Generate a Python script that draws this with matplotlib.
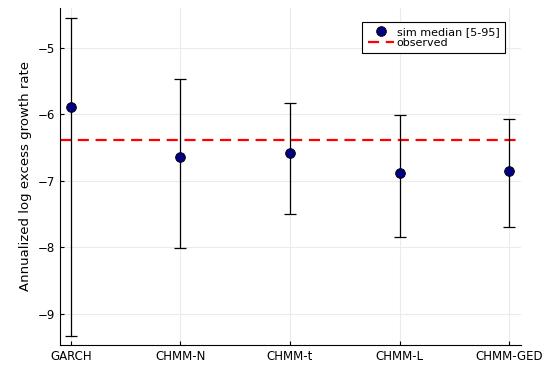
import numpy as np
import matplotlib
matplotlib.use('Agg')
import matplotlib.pyplot as plt

# Données
modeles = ['GARCH', 'CHMM-N', 'CHMM-t', 'CHMM-L', 'CHMM-GED']
mediane = [-5.89, -6.64, -6.58, -6.88, -6.85]
q05 = [-9.33, -8.01, -7.50, -7.84, -7.70]
q95 = [-4.55, -5.47, -5.83, -6.01, -6.07]
observe = -6.38

x = np.arange(1, len(modeles) + 1)
med = np.array(mediane)
err = [med - np.array(q05), np.array(q95) - med]

fig = plt.figure(figsize=(5.44, 3.65), dpi=100)
ax = fig.add_axes([0.110, 0.055, 0.848, 0.923])

# Barres d'erreur (5-95) puis médianes
ax.errorbar(x, med, yerr=err, fmt='none', ecolor='black',
            elinewidth=0.9, capsize=4, capthick=0.9, zorder=3)
ax.plot(x, med, 'o', color='navy', markersize=7, markeredgecolor='black',
        markeredgewidth=0.6, label='sim median [5-95]', zorder=4)
ax.axhline(observe, color='red', linestyle=(0, (5, 3)), linewidth=1.6,
           label='observed', zorder=2)

ax.set_xlim(0.9, 5.11)
ax.set_ylim(-9.47, -4.4)
ax.set_xticks(x)
ax.set_xticklabels(modeles)
ax.set_yticks([-9, -8, -7, -6, -5])
ax.set_yticklabels(['\u22129', '\u22128', '\u22127', '\u22126', '\u22125'])
ax.grid(True, color='#ebebeb', linewidth=0.8)
ax.set_axisbelow(True)
for s in ['top', 'right']:
    ax.spines[s].set_visible(False)
ax.tick_params(direction='in', labelsize=8.5, length=3)
ax.set_ylabel('Annualized log excess growth rate', fontsize=9.5)

leg = ax.legend(loc='upper right', fontsize=8, fancybox=False,
                edgecolor='black', framealpha=1, handlelength=2.4,
                borderpad=0.5, labelspacing=0.05, handletextpad=0.2,
                borderaxespad=0, bbox_to_anchor=(0.965, 0.96))
leg.get_frame().set_linewidth(0.8)

fig.savefig('out.png', dpi=100)
